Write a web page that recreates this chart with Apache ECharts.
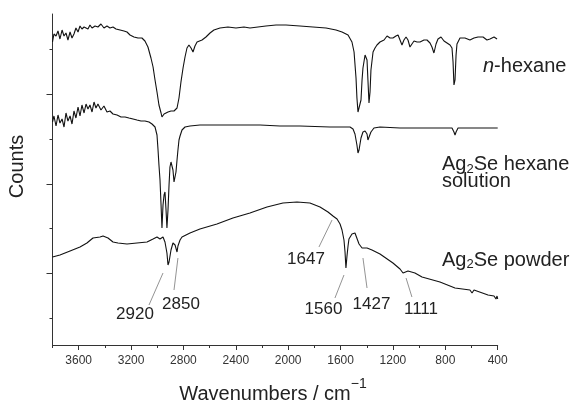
<!DOCTYPE html>
<html><head><meta charset="utf-8">
<script src="https://cdn.jsdelivr.net/npm/echarts/dist/echarts.min.js"></script>
<style>html,body{margin:0;padding:0;background:#fff}#c{width:571px;height:404px}</style>
</head><body><div id="c"></div>
<script>
// ---- data (wavenumber in cm^-1, counts in arbitrary units) ----
const hexaneWn = [3800,3789,3773,3758,3743,3727,3712,3697,3682,3666,3651,3636,3621,3605,3590,3575,3559,3544,3529,3514,3498,3475,3453,3430,3407,3384,3361,3338,3315,3284,3254,3231,3208,3178,3147,3117,3094,3071,3048,3032,3017,3002,2987,2971,2964,2948,2933,2918,2895,2872,2849,2834,2819,2803,2788,2773,2758,2742,2727,2712,2696,2681,2658,2628,2597,2567,2521,2460,2399,2338,2292,2231,2170,2093,2017,1910,1811,1711,1635,1589,1543,1513,1497,1482,1475,1467,1459,1444,1436,1429,1413,1398,1391,1383,1375,1368,1352,1337,1322,1299,1268,1245,1222,1200,1177,1161,1146,1131,1116,1100,1085,1070,1055,1039,1016,993,963,940,917,902,887,871,856,833,810,787,764,749,741,734,726,718,711,688,650,612,581,550,512,482,459,428,405];
const hexaneCounts = [303,311,309,314,306,315,309,312,305,313,307,311,317,313,319,316,318,320,316,320,317,319,318,321,317,319,317,318,316,315,314,313,310,308,307,307,304,298,287,278,265,253,240,232,228,231,229,233,234,234,237,247,263,277,288,297,300,297,293,299,303,301,305,308,312,315,317,318,317,318,317,318,319,320,320,319,318,317,315,313,310,303,293,267,247,233,235,245,265,277,290,285,265,242,253,275,293,297,300,303,305,309,307,307,309,310,308,300,305,308,305,298,301,304,303,303,305,305,302,298,292,301,306,308,304,302,300,297,283,260,265,290,301,307,307,305,307,308,308,305,306,308,306];

const solutionWn = [3800,3789,3773,3758,3743,3727,3712,3697,3682,3666,3651,3636,3621,3605,3590,3575,3559,3544,3529,3514,3498,3483,3468,3453,3430,3407,3384,3361,3338,3307,3277,3246,3216,3185,3155,3124,3094,3063,3040,3017,3002,2994,2987,2979,2971,2964,2956,2948,2941,2933,2926,2918,2910,2903,2895,2887,2880,2872,2864,2857,2849,2842,2834,2826,2811,2788,2750,2674,2521,2368,2215,2063,1910,1681,1528,1505,1490,1475,1467,1459,1444,1429,1413,1398,1391,1383,1368,1345,1299,1146,993,841,749,734,726,718,703,535,400];
const solutionCounts = [223,229,219,230,222,226,218,232,224,229,221,234,227,238,229,240,232,241,236,240,233,243,237,241,235,239,233,234,231,230,228,228,227,226,225,224,224,223,221,218,210,195,180,165,140,117,140,150,153,135,117,135,160,178,183,183,175,163,162,173,185,195,205,209,215,218,219,220,220,220,220,219,219,218,218,216,211,200,192,195,207,213,214,211,205,206,213,217,218,217,217,217,217,213,210,213,217,217,217];

const powderWn = [3800,3743,3666,3590,3537,3491,3437,3414,3376,3338,3300,3231,3155,3078,3032,3002,2994,2979,2971,2956,2941,2926,2918,2910,2895,2880,2864,2849,2842,2826,2811,2750,2674,2544,2422,2292,2162,2040,1933,1834,1757,1696,1658,1627,1604,1589,1574,1566,1559,1551,1543,1536,1513,1490,1475,1459,1436,1421,1398,1360,1299,1200,1146,1123,1108,1085,1032,978,841,726,612,596,581,474,428,413,405,400];
const powderCounts = [88,90,94,98,102,107,108,109,107,103,102,101,102,103,106,108,109,106,107,108,103,92,80,83,95,102,100,93,99,105,108,112,116,121,127,132,138,142,143,142,138,133,129,126,121,115,105,93,77,89,99,106,111,112,110,101,97,95,97,95,91,82,76,72,70,74,72,68,63,57,55,52,55,50,49,46,49,46];

// peak annotations: label text and leader line end points [wn, counts]
const peakLabels = ['2920','2850','1647','1560','1427','1111'];
const leaderFrom = [[2956,72],[2842,87],[1665,125],[1574,70],[1429,87],[1100,67]];
const leaderTo   = [[3063,40],[2872,55],[1765,98],[1643,47],[1398,57],[1055,48]];

// axis ticks
const xMajorTicks = [3600,3200,2800,2400,2000,1600,1200,800,400];
const xMinorTicks = [3800,3400,3000,2600,2200,1800,1400,1000,600];
const yMajorTicks = [72,161,251];
const yMinorTicks = [27,116.5,206,296];

// ---- chart ----
const FONT = '"Liberation Sans", Arial, Helvetica, sans-serif';
const AX = '#333';
const zip = (a, b) => a.map((v, i) => [v, b[i]]);
const chart = echarts.init(document.getElementById('c'), null, {renderer: 'canvas'});

function xAx(major) {
  return {
    type: 'value', min: 400, max: 3800, inverse: true, position: 'bottom',
    axisLine: {show: major, lineStyle: {color: AX, width: 1}},
    axisTick: {show: true, customValues: major ? xMajorTicks : xMinorTicks, length: major ? 5 : 3, lineStyle: {color: AX, width: 1}},
    axisLabel: major ? {show: true, customValues: xMajorTicks, margin: 10, fontSize: 12, color: AX, fontFamily: FONT,
      formatter: v => String(v)} : {show: false},
    splitLine: {show: false}
  };
}
function yAx(major) {
  return {
    type: 'value', min: 0, max: 331, position: 'left',
    axisLine: {show: major, lineStyle: {color: AX, width: 1}},
    axisTick: {show: true, customValues: major ? yMajorTicks : yMinorTicks, length: major ? 6 : 3, lineStyle: {color: AX, width: 1}},
    axisLabel: {show: false},
    splitLine: {show: false}
  };
}
const lineStyle = {color: '#111', width: 1.1};
function spec(data, extra) {
  return Object.assign({type: 'line', xAxisIndex: 0, yAxisIndex: 0, data: data, symbol: 'none',
    lineStyle: lineStyle, animation: false, silent: true, clip: true}, extra || {});
}

const labelPos = [[135,314],[181,304],[306,259],[323.5,309],[371.5,304],[421,309]];

chart.setOption({
  animation: false,
  grid: {left: 52.5, right: 73.3, top: 14, bottom: 59, containLabel: false},
  xAxis: [xAx(true), xAx(false)],
  yAxis: [yAx(true), yAx(false)],
  series: [
    spec(zip(hexaneWn, hexaneCounts)),
    spec(zip(solutionWn, solutionCounts)),
    spec(zip(powderWn, powderCounts), {
      markLine: {
        symbol: ['none', 'none'], silent: true, animation: false,
        label: {show: false},
        lineStyle: {color: '#777', width: 0.8, type: 'solid'},
        emphasis: {disabled: true},
        data: leaderFrom.map((p, i) => [{coord: p}, {coord: leaderTo[i]}])
      }
    })
  ],
  graphic: [
    {type: 'text', x: 17.5, y: 166.5, rotation: Math.PI / 2,
      style: {text: 'Counts', fontSize: 20, fontFamily: FONT, fill: '#222', align: 'center', verticalAlign: 'middle'}},
    {type: 'text', x: 273, y: 394,
      style: {text: '{a|Wavenumbers / cm}{s|\u22121}', fill: '#222', align: 'center', verticalAlign: 'middle',
        rich: {a: {fontSize: 20, fontFamily: FONT, fill: '#222', lineHeight: 22},
               s: {fontSize: 14, fontFamily: FONT, fill: '#222', lineHeight: 14, padding: [0, 0, 20, 0]}}}},
    {type: 'text', x: 483, y: 66,
      style: {text: '{i|n}{a|-hexane}', fill: '#222', align: 'left', verticalAlign: 'middle',
        rich: {i: {fontSize: 20, fontFamily: FONT, fontStyle: 'italic', fill: '#222', lineHeight: 22},
               a: {fontSize: 20, fontFamily: FONT, fill: '#222', lineHeight: 22}}}},
    {type: 'text', x: 442, y: 164.5,
      style: {text: '{a|Ag}{s|2}{a|Se hexane}', fill: '#222', align: 'left', verticalAlign: 'middle',
        rich: {a: {fontSize: 20, fontFamily: FONT, fill: '#222', lineHeight: 22},
               s: {fontSize: 13, fontFamily: FONT, fill: '#222', lineHeight: 13, padding: [9, 0, 0, 0]}}}},
    {type: 'text', x: 442, y: 181,
      style: {text: 'solution', fontSize: 20, fontFamily: FONT, fill: '#222', align: 'left', verticalAlign: 'middle'}},
    {type: 'text', x: 442, y: 260,
      style: {text: '{a|Ag}{s|2}{a|Se powder}', fill: '#222', align: 'left', verticalAlign: 'middle',
        rich: {a: {fontSize: 20, fontFamily: FONT, fill: '#222', lineHeight: 22},
               s: {fontSize: 13, fontFamily: FONT, fill: '#222', lineHeight: 13, padding: [9, 0, 0, 0]}}}}
  ].concat(peakLabels.map((t, i) => ({
    type: 'text', x: labelPos[i][0], y: labelPos[i][1],
    style: {text: t, fontSize: 17, fontFamily: FONT, fill: '#222', align: 'center', verticalAlign: 'middle'}
  })))
});
</script></body></html>
